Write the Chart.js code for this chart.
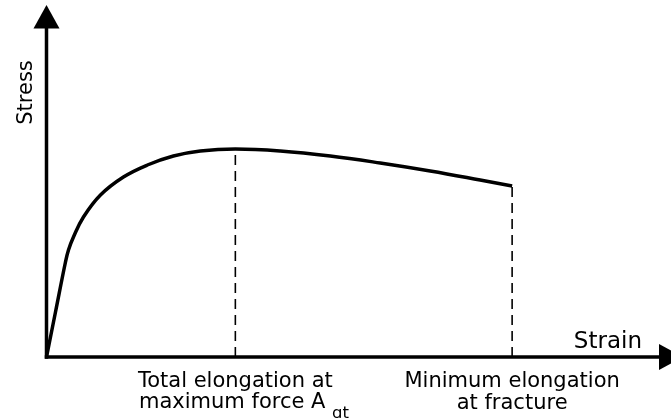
<!DOCTYPE html>
<html>
<head>
<meta charset="utf-8">
<script src="https://cdn.jsdelivr.net/npm/chart.js@4.4.0/dist/chart.umd.min.js"></script>
<style>
  html, body { margin: 0; padding: 0; background: #fff; }
  #wrap { width: 671px; height: 418px; }
</style>
</head>
<body>
<div id="wrap"><canvas id="c" width="671" height="418"></canvas></div>
<script>
// Stress-strain curve (arbitrary units)
const strain = [0, 9, 19, 22, 27, 37, 54, 77, 101, 127, 154, 189, 234, 284, 334, 384, 434, 466];
const stress = [0, 45, 95, 107, 120, 140, 162, 180, 192, 201, 206, 208, 206, 201, 194, 186, 177, 171];
// Marker positions (strain) for the dashed guide lines
const agtStrain = 189;      // total elongation at maximum force
const agtStress = 208;
const fractureStrain = 466; // minimum elongation at fracture
const fractureStress = 171;
const xMax = 625;
const yMax = 352;
const axisTitles = { x: 'Strain', y: 'Stress' };
const markerLabels = [
  ['Total elongation at', 'maximum force A', 'gt'],
  ['Minimum elongation', 'at fracture']
];

const curve = strain.map((x, i) => ({ x: x, y: stress[i] }));

const annot = {
  id: 'annot',
  afterDatasetsDraw(chart) {
    const ctx = chart.ctx;
    const xs = chart.scales.x, ys = chart.scales.y;
    const x0 = xs.getPixelForValue(0), y0 = ys.getPixelForValue(0);
    ctx.save();
    ctx.strokeStyle = '#000';
    ctx.fillStyle = '#000';
    ctx.lineWidth = 3.5;
    ctx.lineCap = 'butt';
    // y axis
    ctx.beginPath();
    ctx.moveTo(x0, y0 + 1.75);
    ctx.lineTo(x0, 26);
    ctx.stroke();
    ctx.beginPath();
    ctx.moveTo(x0, 5);
    ctx.lineTo(x0 - 13, 28.5);
    ctx.lineTo(x0 + 13, 28.5);
    ctx.closePath();
    ctx.fill();
    // x axis
    ctx.beginPath();
    ctx.moveTo(x0 - 1.75, y0);
    ctx.lineTo(662, y0);
    ctx.stroke();
    ctx.beginPath();
    ctx.moveTo(683, y0);
    ctx.lineTo(659, y0 - 13);
    ctx.lineTo(659, y0 + 13);
    ctx.closePath();
    ctx.fill();

    // texts
    ctx.textBaseline = 'alphabetic';
    ctx.font = '23px "DejaVu Sans"';
    ctx.textAlign = 'right';
    ctx.fillText(axisTitles.x, 642, 348);

    ctx.save();
    ctx.translate(32, 92.5);
    ctx.rotate(-Math.PI / 2);
    ctx.textAlign = 'center';
    ctx.font = '21px "DejaVu Sans"';
    ctx.fillText(axisTitles.y, 0, 0);
    ctx.restore();

    ctx.font = '21px "DejaVu Sans"';
    ctx.textAlign = 'center';
    const ax = xs.getPixelForValue(agtStrain);
    const fx = xs.getPixelForValue(fractureStrain);
    ctx.fillText(markerLabels[0][0], ax, 387);
    ctx.textAlign = 'left';
    ctx.fillText(markerLabels[0][1], 139, 408);
    const w = ctx.measureText(markerLabels[0][1] + ' ').width;
    ctx.font = '16.5px "DejaVu Sans"';
    ctx.fillText(markerLabels[0][2], 139 + w, 418);
    ctx.font = '21px "DejaVu Sans"';
    ctx.textAlign = 'center';
    ctx.fillText(markerLabels[1][0], fx, 387);
    ctx.fillText(markerLabels[1][1], fx, 409);
    ctx.restore();
  }
};

new Chart(document.getElementById('c'), {
  type: 'line',
  data: {
    datasets: [
      {
        data: curve,
        borderColor: '#000',
        borderWidth: 3.5,
        pointRadius: 0,
        tension: 0.4,
        fill: false
      },
      {
        data: [{ x: agtStrain, y: 0 }, { x: agtStrain, y: agtStress }],
        borderColor: '#000',
        borderWidth: 1.6,
        borderDash: [10, 6],
        pointRadius: 0,
        fill: false
      },
      {
        data: [{ x: fractureStrain, y: 0 }, { x: fractureStrain, y: fractureStress }],
        borderColor: '#000',
        borderWidth: 1.6,
        borderDash: [10, 6],
        pointRadius: 0,
        fill: false
      }
    ]
  },
  options: {
    responsive: false,
    animation: false,
    events: [],
    layout: { padding: { left: 46.5, right: 0, top: 5, bottom: 61 } },
    plugins: { legend: { display: false }, tooltip: { enabled: false } },
    scales: {
      x: { type: 'linear', min: 0, max: xMax, display: false },
      y: { type: 'linear', min: 0, max: yMax, display: false }
    }
  },
  plugins: [annot]
});
</script>
</body>
</html>
